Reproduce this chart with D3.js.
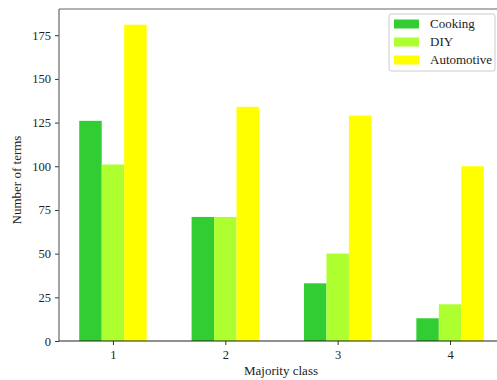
<!DOCTYPE html>
<html>
<head>
<meta charset="utf-8">
<script src="https://cdn.jsdelivr.net/npm/d3@7"></script>
<style>
  html, body { margin: 0; padding: 0; background: #fff; }
  svg { display: block; }
  text { font-family: "Liberation Serif", "DejaVu Serif", serif; fill: #222; }
</style>
</head>
<body>
<svg id="chart" width="497" height="380"></svg>
<script>
// Number of terms per majority class, grouped by domain
const classes = [1, 2, 3, 4];
const seriesNames = ["Cooking", "DIY", "Automotive"];
const cooking = [126, 71, 33, 13];
const diy = [101, 71, 50, 21];
const automotive = [181, 134, 129, 100];
const seriesColors = ["#32cd32", "#adff2f", "#ffff00"];
const yTicks = [0, 25, 50, 75, 100, 125, 150, 175];

const seriesValues = [cooking, diy, automotive];

const svg = d3.select("#chart");
const margin = { left: 59, top: 9, right: 504, bottom: 341 };

const barW = 0.2;
const x = d3.scaleLinear().domain([0.52, 4.48]).range([margin.left, margin.right]);
const y = d3.scaleLinear().domain([0, 190]).range([margin.bottom, margin.top]);

// Bars
const g = svg.append("g");
seriesValues.forEach((vals, si) => {
  g.selectAll(null)
    .data(classes.map((c, i) => ({ c, v: vals[i] })))
    .enter().append("rect")
    .attr("x", d => x(d.c + (si - 1) * barW - barW / 2))
    .attr("width", d => x(d.c + barW / 2) - x(d.c - barW / 2))
    .attr("y", d => y(d.v))
    .attr("height", d => y(0) - y(d.v))
    .attr("fill", seriesColors[si]);
});

// Axes
const yAxis = d3.axisLeft(y).tickValues(yTicks).tickSize(4).tickPadding(4);
const yg = svg.append("g").attr("transform", `translate(${margin.left},0)`).call(yAxis);
yg.select(".domain").remove();
yg.selectAll("line").attr("stroke", "#333");
yg.selectAll("text").style("font-size", "12.5px").style("font-family", "Liberation Serif, serif").attr("fill", "#222");

const xAxis = d3.axisBottom(x).tickValues(classes).tickFormat(d3.format("d")).tickSize(4).tickPadding(5);
const xg = svg.append("g").attr("transform", `translate(0,${margin.bottom})`).call(xAxis);
xg.select(".domain").remove();
xg.selectAll("line").attr("stroke", "#333");
xg.selectAll("text").style("font-size", "12.5px").style("font-family", "Liberation Serif, serif").attr("fill", "#222");

// Frame
svg.append("line").attr("x1", margin.left).attr("x2", margin.left)
  .attr("y1", margin.top).attr("y2", margin.bottom).attr("stroke", "#666").attr("stroke-width", 1.2);
svg.append("line").attr("x1", margin.left).attr("x2", margin.right)
  .attr("y1", margin.top).attr("y2", margin.top).attr("stroke", "#666").attr("stroke-width", 1.2);
svg.append("line").attr("x1", margin.left).attr("x2", margin.right)
  .attr("y1", margin.bottom).attr("y2", margin.bottom).attr("stroke", "#222").attr("stroke-width", 1.2);
svg.append("line").attr("x1", margin.right).attr("x2", margin.right)
  .attr("y1", margin.top).attr("y2", margin.bottom).attr("stroke", "#666").attr("stroke-width", 1.2);

// Axis titles
svg.append("text").attr("x", 281).attr("y", 375)
  .attr("text-anchor", "middle").style("font-size", "13px").text("Majority class");
svg.append("text")
  .attr("transform", `translate(21,${(margin.top + margin.bottom) / 2 + 5}) rotate(-90)`)
  .attr("text-anchor", "middle").style("font-size", "13px").text("Number of terms");

// Legend
const lg = svg.append("g").attr("transform", "translate(389,14)");
lg.append("rect").attr("x", 0).attr("y", 0).attr("width", 106).attr("height", 57)
  .attr("rx", 2).attr("fill", "#fff").attr("stroke", "#ccc").attr("stroke-width", 1);
seriesNames.forEach((name, i) => {
  const row = lg.append("g").attr("transform", `translate(0,${10 + i * 18})`);
  row.append("rect").attr("x", 5).attr("y", -4.5).attr("width", 25).attr("height", 9).attr("fill", seriesColors[i]);
  row.append("text").attr("x", 41).attr("y", 4).style("font-size", "13px").text(name);
});
</script>
</body>
</html>
